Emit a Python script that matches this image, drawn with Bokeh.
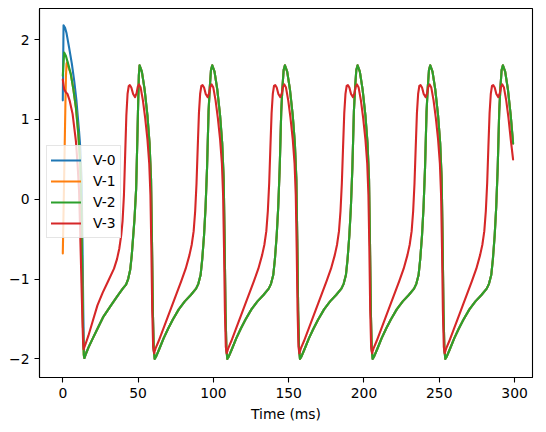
from bokeh.plotting import figure
from bokeh.models import Range1d, FixedTicker, Legend, LegendItem
from bokeh.embed import file_html
from bokeh.resources import INLINE

# ---------------- data ----------------
x_ticks = [0, 50, 100, 150, 200, 250, 300]
y_ticks = [-2, -1, 0, 1, 2]
y_tick_labels = {-2: "\u22122", -1: "\u22121", 0: "0", 1: "1", 2: "2"}
series_names = ["V-0", "V-1", "V-2", "V-3"]
colors = ["#1f77b4", "#ff7f0e", "#2ca02c", "#d62728"]

# V-2 (green): shared by V-0 and V-1 after they synchronise
t_v2 = [0, 0.9, 2.0, 3.5, 5.3, 7.0, 8.7, 10.3, 11.6, 12.3, 12.9, 13.4, 13.9, 14.3,
        15.5, 17.0, 20.0, 23.1, 27.0, 32.0, 36.0, 39.8, 42.0, 43.4, 44.8, 45.8, 46.8, 47.6, 48.7, 49.5, 50.1, 50.5, 51.0,
        52.5, 54.3, 56.2, 57.6, 58.6, 59.2, 59.8, 60.4, 61.0,
        62.0, 64.0, 67.0, 70.0, 73.0, 77.0, 81.0, 85.0, 88.5, 90.0, 91.5, 92.6, 93.8, 94.8, 95.8, 96.8, 97.6, 98.4, 99.25,
        100.75, 102.55, 104.45, 105.85, 106.85, 107.45, 108.05, 108.65, 109.25,
        110.25, 112.25, 115.25, 118.25, 121.25, 125.25, 129.25, 133.25, 136.75, 138.25, 139.75, 140.85, 142.05, 143.05, 144.05, 145.05, 145.85, 146.65, 147.5,
        149.0, 150.8, 152.7, 154.1, 155.1, 155.7, 156.3, 156.9, 157.5,
        158.5, 160.5, 163.5, 166.5, 169.5, 173.5, 177.5, 181.5, 185.0, 186.5, 188.0, 189.1, 190.3, 191.3, 192.3, 193.3, 194.1, 194.9, 195.75,
        197.25, 199.05, 200.95, 202.35, 203.35, 203.95, 204.55, 205.15, 205.75,
        206.75, 208.75, 211.75, 214.75, 217.75, 221.75, 225.75, 229.75, 233.25, 234.75, 236.25, 237.35, 238.55, 239.55, 240.55, 241.55, 242.35, 243.15, 244.0,
        245.5, 247.3, 249.2, 250.6, 251.6, 252.2, 252.8, 253.4, 254.0,
        255.0, 257.0, 260.0, 263.0, 266.0, 270.0, 274.0, 278.0, 281.5, 283.0, 284.5, 285.6, 286.8, 287.8, 288.8, 289.8, 290.6, 291.4, 292.25,
        293.75, 295.55, 297.45, 299.0]
v_v2 = [1.55, 1.84, 1.80, 1.70, 1.57, 1.38, 1.15, 0.82, 0.44, -0.10, -0.90, -1.60, -1.95, -1.99,
        -1.93, -1.86, -1.74, -1.62, -1.47, -1.33, -1.22, -1.12, -1.07, -1.00, -0.88, -0.70, -0.45, -0.25, 0.13, 0.75, 1.25, 1.55, 1.68,
        1.60, 1.38, 1.05, 0.70, 0.25, -0.50, -1.40, -1.88, -2.00,
        -1.97, -1.88, -1.74, -1.62, -1.51, -1.38, -1.28, -1.20, -1.12, -1.06, -0.95, -0.75, -0.45, -0.10, 0.40, 1.10, 1.40, 1.62, 1.68,
        1.60, 1.38, 1.05, 0.70, 0.25, -0.50, -1.40, -1.88, -2.00,
        -1.97, -1.88, -1.74, -1.62, -1.51, -1.38, -1.28, -1.20, -1.12, -1.06, -0.95, -0.75, -0.45, -0.10, 0.40, 1.10, 1.40, 1.62, 1.68,
        1.60, 1.38, 1.05, 0.70, 0.25, -0.50, -1.40, -1.88, -2.00,
        -1.97, -1.88, -1.74, -1.62, -1.51, -1.38, -1.28, -1.20, -1.12, -1.06, -0.95, -0.75, -0.45, -0.10, 0.40, 1.10, 1.40, 1.62, 1.68,
        1.60, 1.38, 1.05, 0.70, 0.25, -0.50, -1.40, -1.88, -2.00,
        -1.97, -1.88, -1.74, -1.62, -1.51, -1.38, -1.28, -1.20, -1.12, -1.06, -0.95, -0.75, -0.45, -0.10, 0.40, 1.10, 1.40, 1.62, 1.68,
        1.60, 1.38, 1.05, 0.70, 0.25, -0.50, -1.40, -1.88, -2.00,
        -1.97, -1.88, -1.74, -1.62, -1.51, -1.38, -1.28, -1.20, -1.12, -1.06, -0.95, -0.75, -0.45, -0.10, 0.40, 1.10, 1.40, 1.62, 1.68,
        1.60, 1.38, 1.05, 0.70]

# V-0 (blue): own start, then it follows V-2 from its first minimum
t_v0_head = [0, 0.5, 1.5, 2.5, 4.2, 6.0, 7.6, 9.0, 9.8, 10.8, 11.6, 12.5, 13.1, 13.6, 14.0, 14.4]
v_v0_head = [1.24, 2.18, 2.15, 2.08, 1.90, 1.70, 1.48, 1.25, 1.07, 0.85, 0.65, 0.23, -0.60, -1.40, -1.85, -1.99]

# V-1 (orange): own start, then it follows V-2
t_v1_head = [0, 0.6, 1.2, 1.7, 2.1, 2.5, 3.0, 4.2]
v_v1_head = [-0.68, -0.05, 0.60, 1.15, 1.55, 1.70, 1.72, 1.63]

# V-3 (red)
t_v3 = [0, 0.9, 2.0, 3.1, 4.5, 6.5, 8.7, 9.8, 10.8, 11.6, 12.4, 13.0, 13.5, 13.8,
        15.0, 17.0, 20.0, 23.0, 26.5, 30.0, 34.0, 36.0, 37.5, 38.8, 39.7, 40.6, 41.4, 42.2, 43.0, 43.8, 44.5, 45.5, 46.7, 48.0, 49.0, 49.8, 50.6,
        51.7, 53.2, 54.7, 56.2, 57.4, 58.2, 58.8, 59.4, 60.0, 60.6,
        61.6, 63.6, 66.6, 69.6, 72.6, 75.6, 78.6, 81.6, 84.1, 85.6, 86.9, 87.9, 88.8, 89.6, 90.4, 91.2, 92.0, 92.8, 93.8, 94.9, 96.2, 97.2, 98.0, 98.85,
        99.95, 101.45, 102.95, 104.45, 105.65, 106.45, 107.05, 107.65, 108.25, 108.85,
        109.85, 111.85, 114.85, 117.85, 120.85, 123.85, 126.85, 129.85, 132.35, 133.85, 135.15, 136.15, 137.05, 137.85, 138.65, 139.45, 140.25, 141.05, 142.05, 143.15, 144.45, 145.45, 146.25, 147.1,
        148.2, 149.7, 151.2, 152.7, 153.9, 154.7, 155.3, 155.9, 156.5, 157.1,
        158.1, 160.1, 163.1, 166.1, 169.1, 172.1, 175.1, 178.1, 180.6, 182.1, 183.4, 184.4, 185.3, 186.1, 186.9, 187.7, 188.5, 189.3, 190.3, 191.4, 192.7, 193.7, 194.5, 195.35,
        196.45, 197.95, 199.45, 200.95, 202.15, 202.95, 203.55, 204.15, 204.75, 205.35,
        206.35, 208.35, 211.35, 214.35, 217.35, 220.35, 223.35, 226.35, 228.85, 230.35, 231.65, 232.65, 233.55, 234.35, 235.15, 235.95, 236.75, 237.55, 238.55, 239.65, 240.95, 241.95, 242.75, 243.6,
        244.7, 246.2, 247.7, 249.2, 250.4, 251.2, 251.8, 252.4, 253.0, 253.6,
        254.6, 256.6, 259.6, 262.6, 265.6, 268.6, 271.6, 274.6, 277.1, 278.6, 279.9, 280.9, 281.8, 282.6, 283.4, 284.2, 285.0, 285.8, 286.8, 287.9, 289.2, 290.2, 291.0, 291.85,
        292.95, 294.45, 295.95, 297.45, 299.0]
v_v3 = [1.50, 1.38, 1.34, 1.32, 1.24, 1.07, 0.73, 0.44, 0.10, -0.45, -1.05, -1.50, -1.80, -1.88,
        -1.82, -1.71, -1.52, -1.33, -1.17, -1.03, -0.87, -0.75, -0.62, -0.45, -0.27, 0.05, 0.55, 1.05, 1.32, 1.42, 1.43, 1.40, 1.32, 1.28, 1.33, 1.41, 1.44,
        1.40, 1.24, 1.02, 0.75, 0.45, 0.05, -0.60, -1.40, -1.85, -1.93,
        -1.87, -1.78, -1.63, -1.48, -1.33, -1.18, -1.03, -0.87, -0.70, -0.57, -0.40, -0.15, 0.20, 0.65, 1.08, 1.32, 1.42, 1.43, 1.40, 1.32, 1.28, 1.33, 1.41, 1.44,
        1.40, 1.24, 1.02, 0.75, 0.45, 0.05, -0.60, -1.40, -1.85, -1.93,
        -1.87, -1.78, -1.63, -1.48, -1.33, -1.18, -1.03, -0.87, -0.70, -0.57, -0.40, -0.15, 0.20, 0.65, 1.08, 1.32, 1.42, 1.43, 1.40, 1.32, 1.28, 1.33, 1.41, 1.44,
        1.40, 1.24, 1.02, 0.75, 0.45, 0.05, -0.60, -1.40, -1.85, -1.93,
        -1.87, -1.78, -1.63, -1.48, -1.33, -1.18, -1.03, -0.87, -0.70, -0.57, -0.40, -0.15, 0.20, 0.65, 1.08, 1.32, 1.42, 1.43, 1.40, 1.32, 1.28, 1.33, 1.41, 1.44,
        1.40, 1.24, 1.02, 0.75, 0.45, 0.05, -0.60, -1.40, -1.85, -1.93,
        -1.87, -1.78, -1.63, -1.48, -1.33, -1.18, -1.03, -0.87, -0.70, -0.57, -0.40, -0.15, 0.20, 0.65, 1.08, 1.32, 1.42, 1.43, 1.40, 1.32, 1.28, 1.33, 1.41, 1.44,
        1.40, 1.24, 1.02, 0.75, 0.45, 0.05, -0.60, -1.40, -1.85, -1.93,
        -1.87, -1.78, -1.63, -1.48, -1.33, -1.18, -1.03, -0.87, -0.70, -0.57, -0.40, -0.15, 0.20, 0.65, 1.08, 1.32, 1.42, 1.43, 1.40, 1.32, 1.28, 1.33, 1.41, 1.44,
        1.40, 1.24, 1.02, 0.75, 0.50]

# assemble V-0 and V-1 (heads + shared tail of V-2)
t_v0 = t_v0_head + [t for t in t_v2 if t > 14.4]
v_v0 = v_v0_head + [v for t, v in zip(t_v2, v_v2) if t > 14.4]
t_v1 = t_v1_head + [t for t in t_v2 if t > 4.2]
v_v1 = v_v1_head + [v for t, v in zip(t_v2, v_v2) if t > 4.2]

# ---------------- figure ----------------
FONT = "DejaVu Sans"
FS = "13.9px"

p = figure(width=537, height=424, output_backend="svg", toolbar_location=None,
           x_range=Range1d(-15.47, 311.9), y_range=Range1d(-2.234, 2.391),
           min_border_left=39, min_border_right=5, min_border_top=8, min_border_bottom=45)
p.background_fill_color = "white"
p.border_fill_color = "white"
p.outline_line_color = "black"
p.outline_line_width = 1.1
p.grid.visible = False

for ax in (p.xaxis[0], p.yaxis[0]):
    ax.axis_line_color = "black"
    ax.axis_line_width = 1.1
    ax.major_tick_line_color = "black"
    ax.major_tick_line_width = 1.1
    ax.major_tick_out = 5
    ax.major_tick_in = 0
    ax.minor_tick_line_color = None
    ax.major_label_text_font = FONT
    ax.major_label_text_font_size = FS
    ax.major_label_text_color = "black"
    ax.major_label_standoff = 5

p.xaxis.ticker = FixedTicker(ticks=x_ticks)
p.yaxis.ticker = FixedTicker(ticks=y_ticks)
p.yaxis.major_label_overrides = y_tick_labels
p.xaxis.axis_label = "Time (ms)"
p.xaxis.axis_label_text_font = FONT
p.xaxis.axis_label_text_font_size = FS
p.xaxis.axis_label_text_font_style = "normal"
p.xaxis.axis_label_text_color = "black"
p.xaxis.axis_label_standoff = 5

data = [(t_v0, v_v0), (t_v1, v_v1), (t_v2, v_v2), (t_v3, v_v3)]
items = []
for (tt, vv), name, c in zip(data, series_names, colors):
    r = p.line(tt, vv, line_color=c, line_width=2.1, line_join="round", line_cap="round")
    items.append(LegendItem(label=name, renderers=[r]))

legend = Legend(items=items, location=(7, 139))
legend.label_text_font = FONT
legend.label_text_font_size = FS
legend.label_text_color = "black"
legend.glyph_width = 30
legend.glyph_height = 20
legend.label_height = 20
legend.label_standoff = 12
legend.spacing = 1
legend.padding = 4
legend.margin = 0
legend.border_line_color = "#cccccc"
legend.border_line_width = 1
legend.background_fill_color = "white"
legend.background_fill_alpha = 0.8
p.add_layout(legend, "center")

open("out.html", "w").write(file_html(p, INLINE))
